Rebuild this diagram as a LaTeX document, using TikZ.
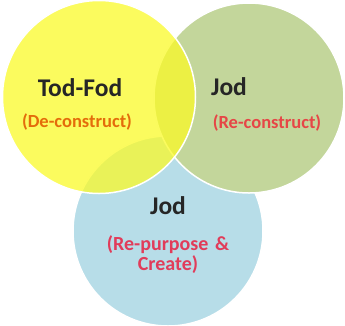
\documentclass[tikz,border=0pt]{standalone}
\usepackage{fontspec}
\setmainfont{Carlito}
\definecolor{todyellow}{RGB}{250,250,40}
\definecolor{jodgreen}{RGB}{195,214,155}
\definecolor{jodblue}{RGB}{183,221,232}
\definecolor{deorange}{RGB}{228,108,10}
\definecolor{rered}{RGB}{230,70,70}
\definecolor{purpink}{RGB}{225,60,90}
\tikzset{
    ring/.style = {
        circle, draw=white, line width=1.5pt, minimum size=#1, inner sep=0
    },
    title/.style = {
        font=\bfseries\fontsize{25.5}{28}\selectfont, text=black!85
    },
    tag/.style = {
        font=\bfseries\fontsize{18.5}{20}\selectfont, text=#1, align=center
    }
}

\begin{document}
\begin{tikzpicture}[x=1pt, y=-1pt]
    \useasboundingbox (0,0) rectangle (345,325);
    \node[ring=190pt, fill=jodblue] (create) at (168,231) {};
    \node[ring=190pt, fill=jodgreen] (recon) at (249,98) {};
    \node[ring=193pt, fill=todyellow, fill opacity=0.75] (decon) at (99,97) {};
    \node[title] (todfod) at (80,88) {Tod-Fod};
    \node[tag=deorange] (detag) at (77,122) {(De-construct)};
    \node[title] (jodtop) at (229,87) {Jod};
    \node[tag=rered] (retag) at (267,123) {(Re-construct)};
    \node[title] (jodlow) at (168,206) {Jod};
    \node[tag=purpink, text width=160pt, font=\bfseries\fontsize{20}{20}\selectfont] (purtag) at (168,255) {(Re-purpose \&\\Create)};
\end{tikzpicture}
\end{document}
